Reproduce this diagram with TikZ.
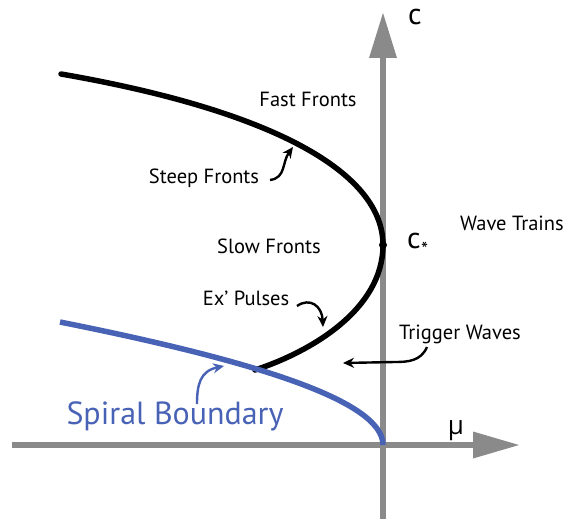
\documentclass[tikz,border=0pt]{standalone}
\usepackage{fontspec}
\setmainfont{PT Sans}
\newfontfamily\greekfont{Open Sans}
\usetikzlibrary{arrows.meta}
\definecolor{axisgray}{RGB}{138,138,138}
\definecolor{spiralblue}{RGB}{72,98,182}
\begin{document}
\begin{tikzpicture}[x=1pt,y=-1pt,
  lbl/.style={font=\fontsize{20.5}{22}\selectfont, inner sep=0pt, anchor=base},
  bigl/.style={font=\fontsize{32}{34}\selectfont, inner sep=0pt, anchor=base},
  ann/.style={line width=2.4pt, -{Stealth[length=11pt,width=10pt]}},
  axis/.style={line width=5.5pt, axisgray},
  curve/.style={line width=5.5pt, line cap=round}]
\useasboundingbox (0,0) rectangle (567,519);

% axes
\coordinate (vbot) at (383,519);
\coordinate (vtop) at (383,56);
\coordinate (hleft) at (12,445);
\coordinate (hright) at (475,445);
\draw[axis] (vbot) -- (vtop);
\draw[axis] (hleft) -- (hright);
\fill[axisgray] (383,13) -- (397,58) -- (369,58) -- cycle;
\fill[axisgray] (519,445) -- (473,431.5) -- (473,458.5) -- cycle;

% curves
\coordinate (bstart) at (61,74);
\coordinate (cstar) at (383,245);
\coordinate (bend) at (255,370);
\coordinate (sstart) at (60,322);
\coordinate (origin) at (383,445);
\draw[curve] (bstart) .. controls (280,112) and (383,175) .. (cstar)
  .. controls (383,310) and (310,352) .. (bend);
\draw[curve, spiralblue, line cap=butt] (sstart) .. controls (250,360) and (383,400) .. (origin);
\fill (cstar) circle (4);

% labels
\node[font=\fontsize{30}{32}\selectfont, inner sep=0pt, anchor=base] (clab) at (415,25) {c};
\node[font=\fontsize{30}{32}\selectfont, inner sep=0pt, anchor=base west] (cstarlab) at (407,248) {c\kern0.5pt\raisebox{-8pt}{\fontsize{20}{20}\selectfont *}};
\node[font=\greekfont\fontsize{26}{28}\selectfont, inner sep=0pt, anchor=base] (mulab) at (456,434) {μ};
\node[lbl] (fast) at (308,106) {Fast Fronts};
\node[lbl] (steep) at (204,183) {Steep Fronts};
\node[lbl] (slow) at (269,253.5) {Slow Fronts};
\node[lbl] (expulse) at (246,305) {Ex’ Pulses};
\node[lbl] (trigger) at (460,339) {Trigger Waves};
\node[lbl] (wave) at (512,230.5) {Wave Trains};
\node[bigl, text=spiralblue] (spiral) at (175,424) {Spiral Boundary};

% annotation arrows
\coordinate (steepA) at (270,180);
\coordinate (steepB) at (293,147);
\draw[ann] (steepA) .. controls (286,178) and (282,162) .. (steepB);
\coordinate (exA) at (297,306);
\coordinate (exB) at (323,327);
\draw[ann] (exA) .. controls (310,297) and (322,306) .. (exB);
\coordinate (trA) at (427,347);
\coordinate (trM) at (395,362);
\coordinate (trB) at (343,363);
\draw[ann] (trA) .. controls (421,361) and (408,362) .. (trM) -- (trB);
\coordinate (spA) at (197,404);
\coordinate (spB) at (224,366);
\draw[ann, spiralblue] (spA) .. controls (197,385) and (200,371) .. (spB);
\end{tikzpicture}
\end{document}
